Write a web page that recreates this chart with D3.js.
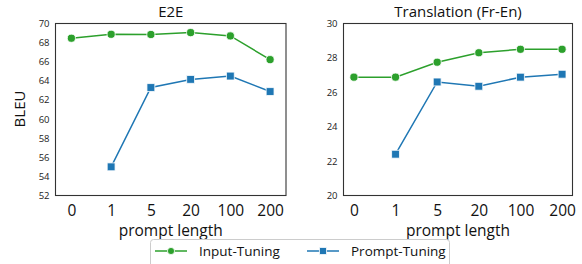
<!DOCTYPE html>
<html>
<head>
<meta charset="utf-8">
<script src="https://cdn.jsdelivr.net/npm/d3@7"></script>
<style>
  body { margin: 0; background: #fff; }
  svg { display: block; font-family: "Open Sans", sans-serif; }
</style>
</head>
<body>
<svg id="chart" width="582" height="264"></svg>
<script>
// categorias do eixo x (comprimento do prompt)
const promptLengths = ['0', '1', '5', '20', '100', '200'];

// E2E
const e2eInput  = [68.46, 68.87, 68.85, 69.05, 68.7, 66.22];
const e2ePrompt = [null, 55.0, 63.3, 64.15, 64.5, 62.88];
const e2eTicks  = [52, 54, 56, 58, 60, 62, 64, 66, 68, 70];

// Translation (Fr-En)
const trInput  = [26.88, 26.88, 27.75, 28.3, 28.5, 28.5];
const trPrompt = [null, 22.4, 26.6, 26.35, 26.88, 27.05];
const trTicks  = [20, 22, 24, 26, 28, 30];

const GREEN = '#2ca02c', BLUE = '#1f77b4';

const svg = d3.select('#chart');

function panel(opts) {
  const g = svg.append('g');
  const x = d3.scaleLinear().domain(opts.xDomain).range([opts.left, opts.right]);
  const y = d3.scaleLinear().domain(opts.yDomain).range([opts.bottom, opts.top]);

  // eixo y (sem traços)
  const yAxis = g.append('g')
    .attr('transform', `translate(${opts.left},0)`)
    .call(d3.axisLeft(y).tickValues(opts.ticks).tickSize(0).tickPadding(6));
  yAxis.select('.domain').remove();
  yAxis.selectAll('text').attr('font-size', 9.5).attr('fill', '#222')
    .attr('font-family', '"Open Sans", sans-serif');

  // eixo x
  const xAxis = g.append('g')
    .attr('transform', `translate(0,${opts.bottom})`)
    .call(d3.axisBottom(x).tickValues(d3.range(promptLengths.length))
      .tickFormat(i => promptLengths[i]).tickSize(0).tickPadding(9));
  xAxis.select('.domain').remove();
  xAxis.selectAll('text').attr('font-size', 15.5).attr('fill', '#111')
    .attr('font-family', '"Open Sans", sans-serif');

  // moldura
  g.append('rect')
    .attr('x', opts.left).attr('y', opts.top)
    .attr('width', opts.right - opts.left).attr('height', opts.bottom - opts.top)
    .attr('fill', 'none').attr('stroke', '#333').attr('stroke-width', 1.1);

  // título
  g.append('text')
    .attr('x', (opts.left + opts.right) / 2).attr('y', 17)
    .attr('text-anchor', 'middle').attr('font-size', 15).attr('fill', '#111')
    .text(opts.title);

  g.append('text')
    .attr('x', (opts.left + opts.right) / 2).attr('y', 236)
    .attr('text-anchor', 'middle').attr('font-size', 15.5).attr('fill', '#111')
    .text('prompt length');

  const line = d3.line()
    .defined(d => d != null)
    .x((d, i) => x(i)).y(d => y(d));

  [[opts.input, GREEN, 'circle'], [opts.prompt, BLUE, 'square']].forEach(([vals, col, shape]) => {
    g.append('path').datum(vals)
      .attr('d', line).attr('fill', 'none')
      .attr('stroke', col).attr('stroke-width', 1.5);
    const pts = vals.map((v, i) => ({ v, i })).filter(d => d.v != null);
    g.selectAll(null).data(pts).join('path')
      .attr('transform', d => `translate(${x(d.i)},${y(d.v)})`)
      .attr('d', d3.symbol().type(shape === 'circle' ? d3.symbolCircle : d3.symbolSquare)
        .size(shape === 'circle' ? 52 : 62))
      .attr('fill', col).attr('stroke', '#fff').attr('stroke-width', 0.8);
  });
}

panel({
  title: 'E2E', left: 55.5, right: 286, top: 23.5, bottom: 195.5,
  xDomain: [-0.4, 5.4], yDomain: [52, 70], ticks: e2eTicks,
  input: e2eInput, prompt: e2ePrompt
});

panel({
  title: 'Translation (Fr-En)', left: 343.5, right: 572.5, top: 23.5, bottom: 195.5,
  xDomain: [-0.25, 5.25], yDomain: [20, 30], ticks: trTicks,
  input: trInput, prompt: trPrompt
});

// rótulo BLEU
svg.append('text')
  .attr('transform', 'translate(25,109) rotate(-90)')
  .attr('text-anchor', 'middle').attr('font-size', 15).attr('fill', '#111')
  .text('BLEU');

// legenda
const legend = svg.append('g');
legend.append('rect')
  .attr('x', 150.5).attr('y', 239.5).attr('width', 299).attr('height', 30)
  .attr('rx', 3).attr('fill', '#fff').attr('stroke', '#ccc');

const legendItems = [
  { label: 'Input-Tuning', color: GREEN, shape: d3.symbolCircle, size: 40, x0: 155 },
  { label: 'Prompt-Tuning', color: BLUE, shape: d3.symbolSquare, size: 50, x0: 307 }
];
legendItems.forEach(it => {
  const gy = 251;
  legend.append('line').attr('x1', it.x0).attr('x2', it.x0 + 32)
    .attr('y1', gy).attr('y2', gy).attr('stroke', it.color).attr('stroke-width', 1.5);
  legend.append('path')
    .attr('transform', `translate(${it.x0 + 16},${gy})`)
    .attr('d', d3.symbol().type(it.shape).size(it.size))
    .attr('fill', it.color).attr('stroke', '#fff').attr('stroke-width', 0.8);
  legend.append('text').attr('x', it.x0 + 44).attr('y', gy + 5)
    .attr('font-size', 13.5).attr('fill', '#111').text(it.label);
});
</script>
</body>
</html>
